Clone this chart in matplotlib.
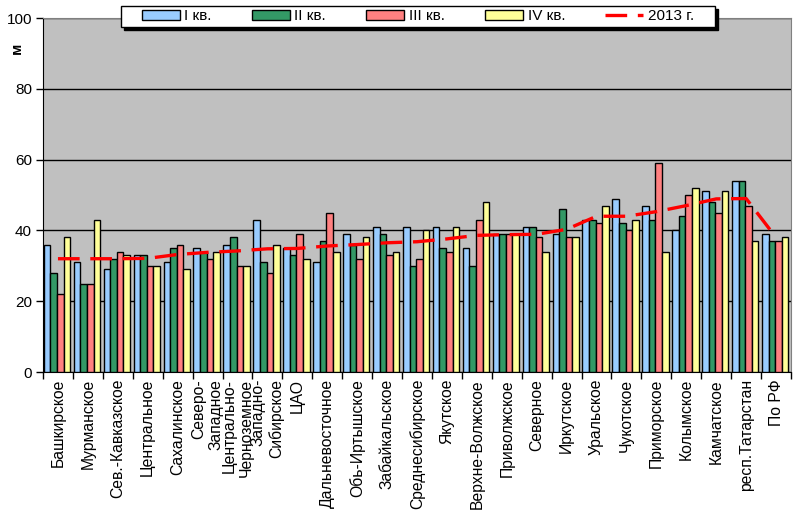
import matplotlib
matplotlib.use("Agg")
import matplotlib.pyplot as plt
import numpy as np
from matplotlib.patches import Rectangle, Patch
from matplotlib.lines import Line2D

plt.rcParams['font.family'] = ['Liberation Sans', 'DejaVu Sans']

categories = ['Башкирское', 'Мурманское', 'Сев.-Кавказское', 'Центральное', 'Сахалинское',
              'Северо-\nЗападное', 'Центрально-\nЧерноземное', 'Западно-\nСибирское', 'ЦАО',
              'Дальневосточное', 'Обь-Иртышское', 'Забайкальское', 'Среднесибирское', 'Якутское',
              'Верхне-Волжское', 'Приволжское', 'Северное', 'Иркутское', 'Уральское', 'Чукотское',
              'Приморское', 'Колымское', 'Камчатское', 'респ.Татарстан', 'По РФ']

q1 = [36, 31, 29, 33, 31, 35, 36, 43, 35, 31, 39, 41, 41, 41, 35, 39, 41, 39, 43, 49, 47, 40, 51, 54, 39]
q2 = [28, 25, 32, 33, 35, 34, 38, 31, 33, 37, 36, 39, 30, 35, 30, 39, 41, 46, 43, 42, 43, 44, 48, 54, 37]
q3 = [22, 25, 34, 30, 36, 32, 30, 28, 39, 45, 32, 33, 32, 34, 43, 39, 38, 38, 42, 40, 59, 50, 45, 47, 37]
q4 = [38, 43, 33, 30, 29, 34, 30, 36, 32, 34, 38, 34, 40, 41, 48, 39, 34, 38, 47, 43, 34, 52, 51, 37, 38]
y2013 = [32, 32, 32, 32.1, 33.2, 33.8, 34.2, 34.8, 34.9, 35.6, 36, 36.5, 36.8, 37.6, 38.6, 38.8, 38.9,
         40.3, 44, 44, 45.3, 47, 48.9, 49, 38]

series_names = ['I кв.', 'II кв.', 'III кв.', 'IV кв.']
colors = ['#99CCFF', '#339966', '#FF8080', '#FFFF99']

W, H = 793, 517
fig = plt.figure(figsize=(W / 100, H / 100), dpi=100)
ax = fig.add_axes([43 / W, 1 - 372 / H, (791 - 43) / W, (372 - 18) / H])
ax.set_facecolor('#C0C0C0')

x = np.arange(len(categories))
bw = 0.22
for k, (vals, c) in enumerate(zip([q1, q2, q3, q4], colors)):
    ax.bar(x + (k - 1.5) * bw - 0.03, vals, width=bw, color=c, edgecolor='black', linewidth=1.0, zorder=3)

ln, = ax.plot(x, y2013, color='#FF0000', linewidth=2.4, zorder=4)
ln.set_dashes((6.5, 3.2))

ax.set_xlim(-0.5, len(categories) - 0.5)
ax.set_ylim(0, 100)
ax.set_yticks([0, 20, 40, 60, 80, 100])
ax.yaxis.grid(True, color='black', linewidth=1.0, zorder=1)
ax.set_axisbelow(True)
ax.tick_params(axis='y', direction='out', length=5, width=1, labelsize=11, pad=3)

ax.set_xticks(np.arange(len(categories) + 1) - 0.5)
ax.set_xticklabels([])
ax.set_xticks(x, minor=True)
ax.set_xticklabels(categories, minor=True, rotation=90, ha='center', va='top',
                   multialignment='right', fontsize=11.3, linespacing=1.2)
ax.tick_params(axis='x', which='major', direction='out', length=5, width=1)
ax.tick_params(axis='x', which='minor', length=0, pad=5)

for s in ['top', 'right']:
    ax.spines[s].set_color('#808080')
for s in ['left', 'bottom']:
    ax.spines[s].set_color('black')

fig.text(17 / W, 1 - 48 / H, 'м', rotation=90, fontweight='bold', fontsize=11, ha='center', va='center')

# legend box with shadow
lx0, lx1, ly0, ly1 = 120.5, 715, 6, 27
fig.patches.append(Rectangle(((lx0 + 3) / W, 1 - (ly1 + 3) / H), (lx1 - lx0) / W, (ly1 - ly0) / H,
                             transform=fig.transFigure, facecolor='black', edgecolor='black', zorder=2))
fig.patches.append(Rectangle((lx0 / W, 1 - ly1 / H), (lx1 - lx0) / W, (ly1 - ly0) / H,
                             transform=fig.transFigure, facecolor='white', edgecolor='black',
                             linewidth=1.0, zorder=3))
handles = [Patch(facecolor=c, edgecolor='black', linewidth=1.0) for c in colors]
lh = Line2D([], [], color='#FF0000', linewidth=2.4)
lh.set_dashes((6.5, 3.2))
handles.append(lh)
leg = fig.legend(handles, series_names + ['2013 г.'], loc='center', ncol=5,
                 bbox_to_anchor=((lx0 + lx1) / 2 / W, 1 - (ly0 + ly1) / 2 / H),
                 frameon=False, fontsize=11, handlelength=2.5, handleheight=0.55,
                 handletextpad=0.3, columnspacing=2.62, borderpad=0.2)
leg.set_zorder(5)

fig.savefig('out.png', dpi=100)
